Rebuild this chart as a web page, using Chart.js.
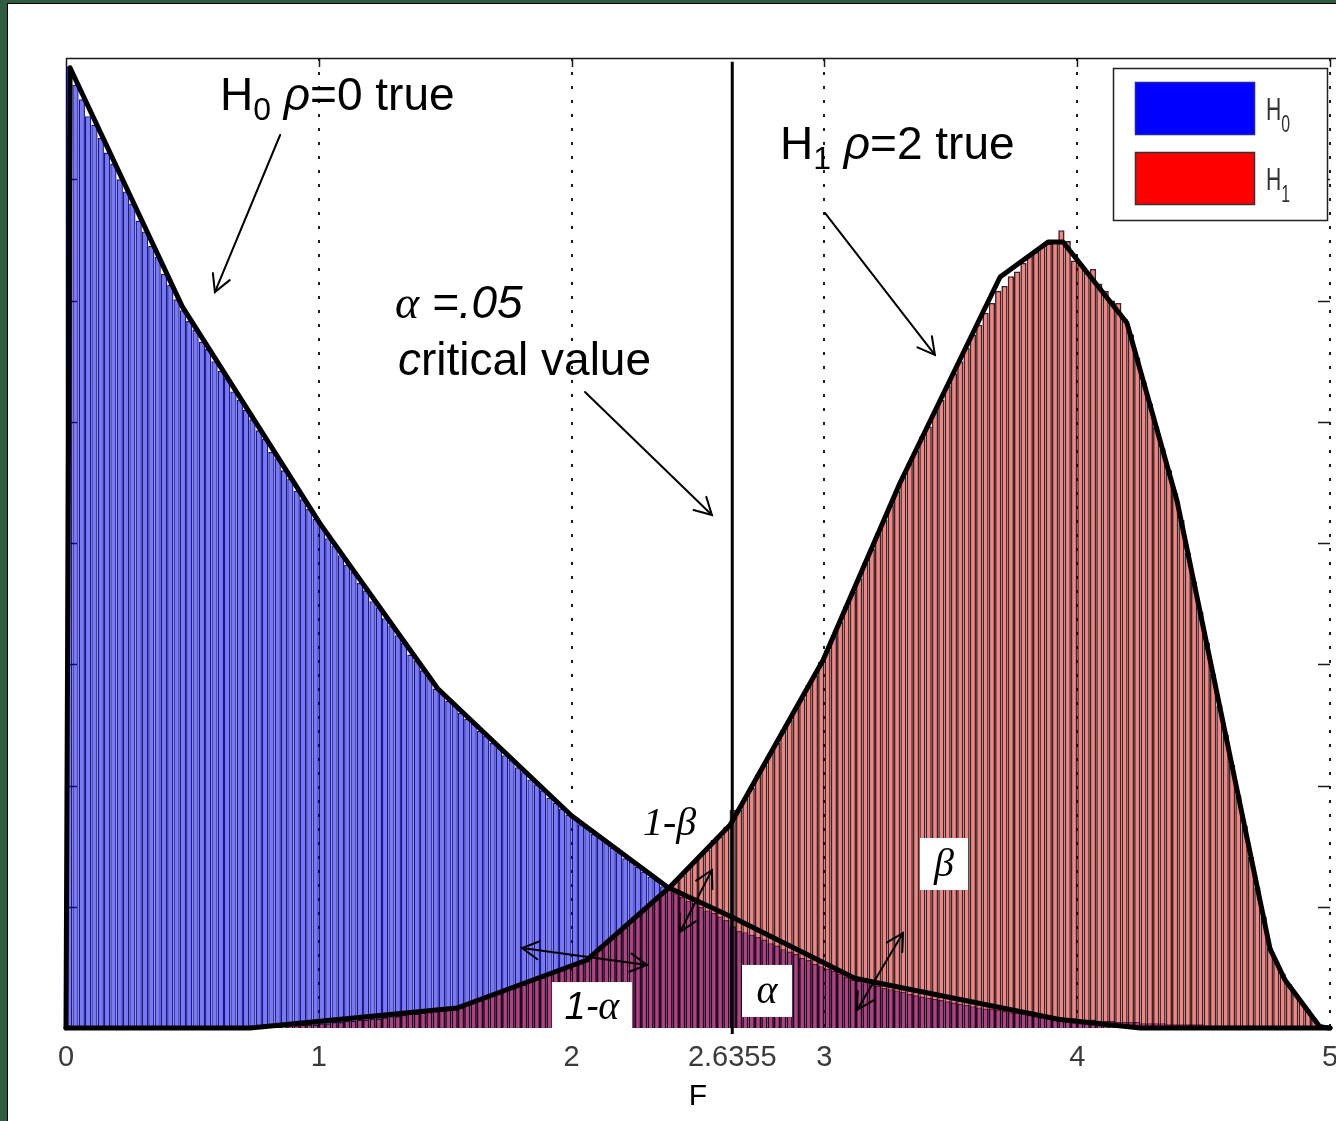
<!DOCTYPE html>
<html>
<head>
<meta charset="utf-8">
<title>F distribution under H0 and H1</title>
<script src="https://cdn.jsdelivr.net/npm/chart.js@4/dist/chart.umd.min.js"></script>
<style>
  html, body { margin: 0; padding: 0; background: #fff; overflow: hidden; }
  canvas { display: block; }
</style>
</head>
<body>
<canvas id="chart" width="1336" height="1121"></canvas>
<script>
// ---- histogram bins (F from 0 to 5, 200 bins) ----
const BIN_LO = 0;
const BIN_W = 0.025;

// simulated F values when H0 (rho = 0) is true, per bin
const h0Counts = [
  7.93, 7.78, 7.66, 7.52, 7.45, 7.34, 7.22, 7.13, 7.00, 6.90, 6.80, 6.66, 6.57, 6.45, 6.36, 6.22, 6.13, 6.01,
  5.92, 5.83, 5.76, 5.66, 5.60, 5.50, 5.42, 5.36, 5.25, 5.18, 5.10, 5.02, 4.93, 4.86, 4.75, 4.70, 4.60, 4.53, 4.43, 4.36, 4.28, 4.20,
  4.14, 4.04, 3.98, 3.90, 3.82, 3.76, 3.67, 3.61, 3.52, 3.47, 3.38, 3.32, 3.24, 3.18, 3.08, 3.03, 2.95, 2.89, 2.80,
  2.76, 2.70, 2.66, 2.60, 2.55, 2.51, 2.45, 2.41, 2.35, 2.31, 2.25, 2.21, 2.15, 2.11, 2.05, 2.01, 1.96, 1.90, 1.86, 1.81, 1.76,
  1.74, 1.68, 1.65, 1.60, 1.57, 1.53, 1.49, 1.45, 1.40, 1.37, 1.33, 1.29, 1.25, 1.22, 1.17,
  1.14, 1.11, 1.08, 1.05, 1.03, 1.00, 0.97, 0.95, 0.92, 0.89, 0.84,
  0.80, 0.79, 0.77, 0.75, 0.73, 0.70, 0.68, 0.65, 0.63, 0.61, 0.58, 0.56, 0.53, 0.51, 0.49, 0.47, 0.45, 0.42, 0.40,
  0.39, 0.37, 0.36, 0.35, 0.33, 0.32, 0.31, 0.30, 0.28, 0.27, 0.26, 0.25, 0.24, 0.23, 0.22, 0.21, 0.20, 0.19, 0.18, 0.17,
  0.16, 0.16, 0.15, 0.14, 0.13, 0.13, 0.12, 0.11, 0.11, 0.10, 0.10, 0.09,
  0.09, 0.08, 0.08, 0.07, 0.07, 0.07, 0.06, 0.06, 0.06, 0.05, 0.05, 0.05, 0.05, 0.04, 0.04, 0.04, 0.04,
  0.03, 0.03, 0.03, 0.03, 0.03, 0.03, 0.02, 0.02, 0.02, 0.02, 0.02, 0.02, 0.02, 0.02,
  0.01, 0.01, 0.01, 0.01, 0.01, 0.01, 0.01, 0.01, 0.01, 0.01, 0.01, 0.01
];

// simulated F values when H1 (rho = 2) is true, per bin
const h1Counts = [
  0, 0, 0, 0, 0, 0, 0, 0, 0, 0, 0, 0, 0, 0, 0, 0, 0, 0, 0, 0, 0, 0, 0, 0, 0, 0, 0, 0, 0, 0, 0, 0,
  0.01, 0.01, 0.02, 0.02, 0.02, 0.03, 0.03, 0.03, 0.04, 0.04, 0.05, 0.05, 0.06, 0.06, 0.07, 0.07, 0.08, 0.08,
  0.09, 0.10, 0.10, 0.11, 0.12, 0.12, 0.13, 0.14, 0.15, 0.15, 0.16, 0.17,
  0.17, 0.20, 0.21, 0.23, 0.25, 0.28, 0.29, 0.31, 0.33, 0.36, 0.36, 0.39, 0.41, 0.42, 0.45, 0.47, 0.48, 0.51, 0.53, 0.54,
  0.56, 0.61, 0.65, 0.71, 0.74, 0.80, 0.83, 0.89, 0.93, 0.98, 1.02, 1.07, 1.12, 1.16,
  1.22, 1.26, 1.33, 1.37, 1.43, 1.47, 1.55, 1.58, 1.66,
  1.80, 1.80, 1.90, 1.98, 2.09, 2.17, 2.27, 2.35, 2.46, 2.54, 2.64, 2.72, 2.83, 2.91, 3.02,
  3.12, 3.24, 3.35, 3.48, 3.60, 3.71, 3.84, 3.95, 4.08, 4.19, 4.32, 4.43,
  4.55, 4.66, 4.76, 4.88, 4.96, 5.09, 5.18, 5.30, 5.40, 5.50, 5.61, 5.72, 5.80, 5.90, 5.98, 6.08,
  6.12, 6.20, 6.24, 6.31, 6.37, 6.40, 6.45, 6.47, 6.49, 6.58, 6.49,
  6.33, 6.30, 6.24, 6.26, 6.14, 6.08, 6.00, 5.98, 5.85,
  5.72, 5.53, 5.33, 5.15, 4.96, 4.78, 4.60, 4.41,
  4.19, 3.92, 3.68, 3.43, 3.18, 2.92, 2.66, 2.42, 2.17, 1.92, 1.67, 1.41, 1.16, 0.92, 0.66,
  0.55, 0.45, 0.36, 0.28, 0.21, 0.15, 0.08, 0.03, 0.01
];

// smoothed density outlines drawn over each histogram
const h0CurveF = [0, 0.016, 0.46, 1.005, 1.47, 2.0, 2.38, 2.64, 3.12, 3.93, 4.25, 5];
const h0CurveY = [0, 7.92, 5.95, 4.16, 2.80, 1.75, 1.16, 0.91, 0.41, 0.07, 0, 0];
const h1CurveF = [0, 0.728, 1.547, 2.061, 2.389, 2.627, 2.995, 3.299, 3.695, 3.885, 3.944, 4.197, 4.395, 4.763, 4.822, 4.96, 5];
const h1CurveY = [0, 0, 0.165, 0.561, 1.163, 1.674, 3.035, 4.495, 6.194, 6.482, 6.482, 5.814, 4.346, 0.652, 0.396, 0.008, 0];

// alpha = .05 critical value of F
const CRITICAL_F = 2.6355;
const CRITICAL_SPAN = [-0.05, 7.97];

const xTickValues = [0, 1, 2, 2.6355, 3, 4, 5];
const xTickLabels = ['0', '1', '2', '2.6355', '3', '4', '5'];
const seriesNames = ['H', 'H'];
const seriesSubs = ['0', '1'];
const Y_MAX = 8;

// ---- fonts ----
const SANS = '"Liberation Sans", Arial, Helvetica, sans-serif';
const SERIF = '"Liberation Serif", "Times New Roman", serif';
const F46 = '46px ' + SANS;
const F32 = '32px ' + SANS;
const I46 = 'italic 46px ' + SANS;
const G46 = 'italic 46px ' + SERIF;
const G40 = 'italic 40px ' + SERIF;
const I38 = 'italic 38px ' + SANS;

// annotation text, anchored in data coordinates (F, density)
const freeLabels = [
  { at: [0.609, 7.571], runs: [
      { text: 'H', font: F46 }, { text: '0', font: F32, dy: 10 }, { text: ' ', font: F46 },
      { text: 'ρ', font: I46 }, { text: '=0 true', font: F46 } ] },
  { at: [2.824, 7.167], runs: [
      { text: 'H', font: F46 }, { text: '1', font: F32, dy: 10 }, { text: ' ', font: F46 },
      { text: 'ρ', font: I46 }, { text: '=2 true', font: F46 } ] },
  { at: [1.301, 5.856], runs: [ { text: 'α', font: G46 }, { text: ' =.05', font: I46 } ] },
  { at: [1.313, 5.385], runs: [ { text: 'c', font: I46 }, { text: 'ritical value', font: F46 } ] },
  { at: [2.282, 1.592], runs: [ { text: '1-β', font: G40 } ] }
];

const boxedLabels = [
  { box: [3.378, 3.568, 1.567, 1.138], runs: [ { text: 'β', font: G40 } ] },
  { box: [1.922, 2.239, 0.379, -0.035], runs: [ { text: '1-', font: I38 }, { text: 'α', font: G40 } ] },
  { box: [2.674, 2.872, 0.520, 0.091], runs: [ { text: 'α', font: G40 } ] }
];

const arrows = [
  { from: [0.847, 7.365], to: [0.589, 6.070], both: false },
  { from: [3.002, 6.722], to: [3.437, 5.551], both: false },
  { from: [2.053, 5.245], to: [2.555, 4.231], both: false },
  { from: [1.804, 0.660], to: [2.298, 0.520], both: true },
  { from: [2.429, 0.792], to: [2.555, 1.303], both: true },
  { from: [3.129, 0.148], to: [3.311, 0.784], both: true }
];

// ---- build datasets ----
const binCenters = h0Counts.map((_, i) => BIN_LO + (i + 0.5) * BIN_W);
const toPoints = (xs, ys) => xs.map((x, i) => ({ x: x, y: ys[i] }));
const h0Bars = toPoints(binCenters, h0Counts);
const h1Bars = toPoints(binCenters, h1Counts);

// ---- drawing helpers ----
function runsWidth(ctx, runs) {
  let w = 0;
  for (const r of runs) { ctx.font = r.font; w += ctx.measureText(r.text).width; }
  return w;
}
function drawRuns(ctx, runs, x, y) {
  let cx = x;
  for (const r of runs) {
    ctx.font = r.font;
    ctx.fillText(r.text, cx, y + (r.dy || 0));
    cx += ctx.measureText(r.text).width;
  }
}
function arrowHead(ctx, x0, y0, x1, y1) {
  const a = Math.atan2(y1 - y0, x1 - x0);
  const len = 19, ang = 0.5;
  ctx.beginPath();
  ctx.moveTo(x1 - len * Math.cos(a - ang), y1 - len * Math.sin(a - ang));
  ctx.lineTo(x1, y1);
  ctx.lineTo(x1 - len * Math.cos(a + ang), y1 - len * Math.sin(a + ang));
  ctx.stroke();
}

// page frame and plot box edges / inward ticks
const framePlugin = {
  id: 'frame',
  beforeDraw(chart) {
    const ctx = chart.ctx, W = chart.width, H = chart.height;
    ctx.save();
    ctx.fillStyle = '#2f5d40';
    ctx.fillRect(0, 0, W, H);
    ctx.fillStyle = '#000';
    ctx.fillRect(7, 3, W, H);
    ctx.fillStyle = '#fff';
    ctx.fillRect(8, 4, W, H);
    ctx.restore();
  },
  beforeDatasetsDraw(chart) {
    const ctx = chart.ctx, ca = chart.chartArea;
    const xs = chart.scales.x, ys = chart.scales.y;
    ctx.save();
    ctx.strokeStyle = '#1a1a1a';
    ctx.lineWidth = 1.5;
    ctx.beginPath();
    ctx.moveTo(ca.left, ca.top + 0.5);
    ctx.lineTo(chart.width, ca.top + 0.5);
    ctx.moveTo(ca.left + 0.5, ca.top);
    ctx.lineTo(ca.left + 0.5, ca.bottom);
    for (let v = 0; v <= 5; v++) {
      const x = Math.round(xs.getPixelForValue(v)) + 0.5;
      ctx.moveTo(x, ca.top);
      ctx.lineTo(x, ca.top + 9);
    }
    for (let v = 1; v <= Y_MAX; v++) {
      const y = Math.round(ys.getPixelForValue(v)) + 0.5;
      ctx.moveTo(ca.left, y);
      ctx.lineTo(ca.left + 11, y);
      if (v < Y_MAX) {
        ctx.moveTo(ca.right, y);
        ctx.lineTo(ca.right - 12, y);
      }
    }
    ctx.stroke();
    ctx.restore();
  }
};

// arrows, annotation text and legend
const notesPlugin = {
  id: 'notes',
  afterDraw(chart) {
    const ctx = chart.ctx, ca = chart.chartArea;
    const xs = chart.scales.x, ys = chart.scales.y;
    const P = (f, v) => [xs.getPixelForValue(f), ys.getPixelForValue(v)];
    ctx.save();
    ctx.strokeStyle = '#000';
    ctx.fillStyle = '#000';
    ctx.lineWidth = 2;
    ctx.lineCap = 'round';
    for (const a of arrows) {
      const [x0, y0] = P(a.from[0], a.from[1]);
      const [x1, y1] = P(a.to[0], a.to[1]);
      ctx.beginPath();
      ctx.moveTo(x0, y0);
      ctx.lineTo(x1, y1);
      ctx.stroke();
      arrowHead(ctx, x0, y0, x1, y1);
      if (a.both) arrowHead(ctx, x1, y1, x0, y0);
    }
    ctx.textBaseline = 'alphabetic';
    ctx.textAlign = 'left';
    for (const l of freeLabels) {
      const [x, y] = P(l.at[0], l.at[1]);
      drawRuns(ctx, l.runs, x, y);
    }
    for (const b of boxedLabels) {
      const [x1, y1] = P(b.box[0], b.box[2]);
      const [x2, y2] = P(b.box[1], b.box[3]);
      ctx.fillStyle = '#fff';
      ctx.fillRect(x1, y1, x2 - x1, y2 - y1);
      ctx.fillStyle = '#000';
      const w = runsWidth(ctx, b.runs);
      drawRuns(ctx, b.runs, (x1 + x2) / 2 - w / 2, (y1 + y2) / 2 + 12);
    }

    // legend
    const lx = ca.right - 217, ly = ca.top + 10, lw = 214, lh = 152;
    ctx.fillStyle = '#fff';
    ctx.fillRect(lx, ly, lw, lh);
    ctx.lineWidth = 1.5;
    ctx.strokeStyle = '#222';
    ctx.strokeRect(lx + 0.5, ly + 0.5, lw, lh);
    const swatches = [
      { y: ly + 14, fill: '#0000ff', edge: '#2020b0' },
      { y: ly + 84, fill: '#ff0000', edge: '#333' }
    ];
    swatches.forEach((s, i) => {
      ctx.fillStyle = s.fill;
      ctx.fillRect(lx + 22, s.y, 120, 53);
      ctx.lineWidth = 1.5;
      ctx.strokeStyle = s.edge;
      ctx.strokeRect(lx + 22.5, s.y + 0.5, 119, 52);
      ctx.save();
      ctx.fillStyle = '#333';
      ctx.translate(lx + 153, s.y + 38);
      ctx.scale(0.66, 1);
      ctx.font = '32px ' + SANS;
      ctx.fillText(seriesNames[i], 0, 0);
      const hw = ctx.measureText(seriesNames[i]).width;
      ctx.font = '24px ' + SANS;
      ctx.fillText(seriesSubs[i], hw, 12);
      ctx.restore();
    });
    ctx.restore();
  }
};

const lineStyle = {
  type: 'line', borderColor: '#000', pointRadius: 0, pointHoverRadius: 0,
  fill: false, tension: 0, clip: false, borderJoinStyle: 'round', borderCapStyle: 'round', order: 0
};

new Chart(document.getElementById('chart'), {
  type: 'bar',
  data: {
    datasets: [
      Object.assign({}, lineStyle, { label: 'H0 density', data: toPoints(h0CurveF, h0CurveY), borderWidth: 5 }),
      Object.assign({}, lineStyle, { label: 'H1 density', data: toPoints(h1CurveF, h1CurveY), borderWidth: 5 }),
      Object.assign({}, lineStyle, { label: 'critical value',
        data: toPoints([CRITICAL_F, CRITICAL_F], CRITICAL_SPAN), borderWidth: 3, borderCapStyle: 'butt' }),
      { label: 'H1', data: h1Bars, order: 1,
        backgroundColor: 'rgba(255,0,0,0.5)', borderColor: 'rgba(20,0,0,0.85)', borderWidth: 1.6 },
      { label: 'H0', data: h0Bars, order: 2,
        backgroundColor: 'rgba(0,0,255,0.53)', borderColor: 'rgba(0,0,120,0.9)', borderWidth: 1.4 }
    ]
  },
  options: {
    responsive: false,
    animation: false,
    events: [],
    layout: { padding: { left: 66, right: 6, top: 58, bottom: 0 } },
    datasets: {
      bar: { grouped: false, barPercentage: 1, categoryPercentage: 1, inflateAmount: 0, borderSkipped: 'start' }
    },
    plugins: { legend: { display: false }, tooltip: { enabled: false } },
    scales: {
      x: {
        type: 'linear', min: 0, max: 5, offset: false,
        afterBuildTicks(scale) { scale.ticks = xTickValues.map(v => ({ value: v })); },
        afterFit(scale) { scale.height = 93; scale.paddingLeft = 0; scale.paddingRight = 0; },
        ticks: {
          autoSkip: false, maxRotation: 0, minRotation: 0, padding: 13, color: '#3a3a3a',
          font: { family: SANS, size: 29 },
          callback: (value, index) => xTickLabels[index]
        },
        grid: {
          offset: false, drawTicks: false, lineWidth: 2,
          color: c => (c.tick && Number.isInteger(c.tick.value) && c.tick.value > 0) ? '#1e1e1e' : 'rgba(0,0,0,0)'
        },
        border: { display: false, dash: [3, 11] },
        title: { display: true, text: 'F', color: '#000', font: { family: SANS, size: 30 }, padding: { top: 0, bottom: 6 } }
      },
      y: { display: false, min: 0, max: Y_MAX }
    }
  },
  plugins: [framePlugin, notesPlugin]
});
</script>
</body>
</html>
